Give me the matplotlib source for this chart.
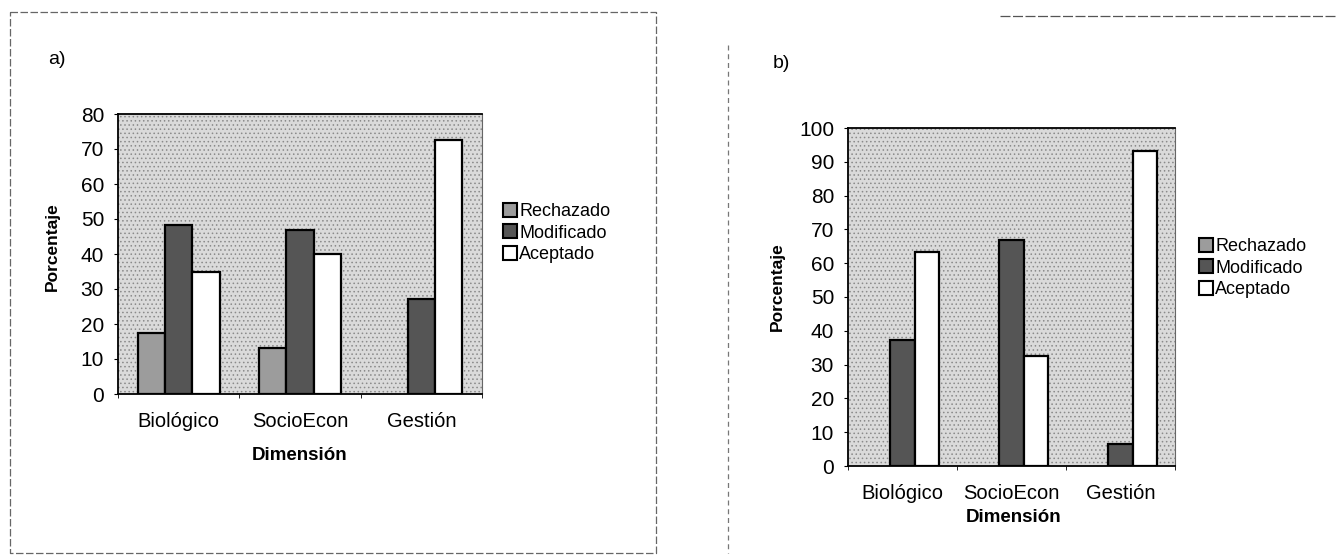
import numpy as np
import matplotlib
matplotlib.use("Agg")
from matplotlib import pyplot as plt
from matplotlib.lines import Line2D
from matplotlib.patches import Rectangle

plt.rcParams['font.family'] = ['Liberation Sans', 'DejaVu Sans']
plt.rcParams['hatch.linewidth'] = 0.6

categorias = ['Biológico', 'SocioEcon', 'Gestión']
series = ['Rechazado', 'Modificado', 'Aceptado']

# panel a)
a_rechazado = [17.4, 13.1, 0]
a_modificado = [48.2, 46.9, 27.1]
a_aceptado = [34.9, 40.0, 72.7]

# panel b)
b_rechazado = [0, 0, 0]
b_modificado = [37.3, 66.9, 6.5]
b_aceptado = [63.4, 32.5, 93.3]

colores = ['#9c9c9c', '#555555', '#ffffff']
fondo = '#dadada'

W, H = 1338, 557
fig = plt.figure(figsize=(W / 100, H / 100), dpi=100)


def px_axes(x0, y0, x1, y1):
    return fig.add_axes([x0 / W, (H - y1) / H, (x1 - x0) / W, (y1 - y0) / H])


def barras(ax, datos, ymax, paso):
    x = np.arange(len(categorias))
    w = 0.225
    for i, (vals, c) in enumerate(zip(datos, colores)):
        lw = [1.6 if v > 0 else 0 for v in vals]
        ax.bar(x + (i - 1) * w, vals, width=w, color=c, edgecolor='black',
               linewidth=lw, label=series[i], zorder=3)
    ax.set_facecolor(fondo)
    # textura punteada del fondo (imitando la trama del escaneo)
    ax.add_patch(Rectangle((0, 0), 1, 1, transform=ax.transAxes, facecolor='none',
                           edgecolor='#8a8a8a', hatch='....', linewidth=0, zorder=1))
    ax.set_xlim(-0.5, 2.5)
    ax.set_ylim(0, ymax)
    ax.set_yticks(np.arange(0, ymax + 1, paso))
    ax.set_xticks(x)
    ax.set_xticklabels(categorias)
    ax.set_xticks([-0.5, 0.5, 1.5, 2.5], minor=True)
    ax.tick_params(axis='x', which='major', length=0, pad=13, labelsize=14.5)
    ax.tick_params(axis='x', which='minor', length=3, direction='out')
    ax.tick_params(axis='y', length=3, direction='out', pad=7, labelsize=15)
    for s in ax.spines.values():
        s.set_linewidth(1.3)
        s.set_color('black')
        s.set_zorder(4)
    ax.spines['right'].set_color('#666666')
    ax.spines['right'].set_linewidth(0.8)


def leyenda(ax, x, y):
    h = [Line2D([0], [0], marker='s', linestyle='none', markersize=9.5,
                markerfacecolor=c, markeredgecolor='black', markeredgewidth=1.5)
         for c in colores]
    ax.legend(h, series, loc='center left', bbox_to_anchor=(x / W, (H - y) / H),
              bbox_transform=fig.transFigure, frameon=False, fontsize=13,
              handlelength=0.7, handletextpad=0.15, labelspacing=0.25,
              borderpad=0, borderaxespad=0)


# Panel a ------------------------------------------------------------------
ax1 = px_axes(118, 114, 482, 394)
barras(ax1, [a_rechazado, a_modificado, a_aceptado], 80, 10)
leyenda(ax1, 504, 233)
fig.text(52 / W, (H - 247) / H, 'Porcentaje', rotation=90, ha='center',
         va='center', fontsize=12.5, fontweight='bold')
fig.text(300 / W, (H - 455) / H, 'Dimensión', ha='center', va='center',
         fontsize=13.5, fontweight='bold')
fig.text(48 / W, (H - 60) / H, 'a)', ha='left', va='center', fontsize=14)

# Panel b ------------------------------------------------------------------
ax2 = px_axes(848, 128, 1175, 466)
barras(ax2, [b_rechazado, b_modificado, b_aceptado], 100, 10)
leyenda(ax2, 1200, 268)
fig.text(777 / W, (H - 287) / H, 'Porcentaje', rotation=90, ha='center',
         va='center', fontsize=12.5, fontweight='bold')
fig.text(1014 / W, (H - 518) / H, 'Dimensión', ha='center', va='center',
         fontsize=13.5, fontweight='bold')
fig.text(773 / W, (H - 63) / H, 'b)', ha='left', va='center', fontsize=14)

# marcos de los paneles (escaneados, discontinuos) -------------------------
def linea(xs, ys, **kw):
    fig.add_artist(Line2D([x / W for x in xs], [(H - y) / H for y in ys],
                          transform=fig.transFigure, **kw))

linea([10, 656, 656, 10, 10], [12, 12, 553, 553, 12], color='#666666',
      linewidth=0.9, linestyle=(0, (6, 2)))
linea([728, 728], [45, 553], color='#777777', linewidth=0.9,
      linestyle=(0, (4, 3)))
linea([1000, 1338], [16, 16], color='#555555', linewidth=0.9,
      linestyle=(0, (8, 2)))

fig.savefig('out.png', dpi=100)
